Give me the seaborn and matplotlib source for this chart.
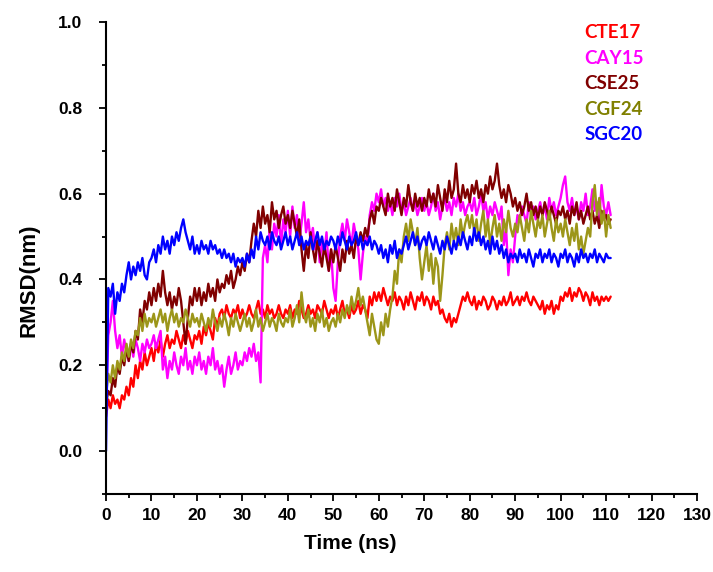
import numpy as np
import pandas as pd
import matplotlib.pyplot as plt
import seaborn as sns

# ── DATA (RMSD in nm, one value every 0.5 ns) ──
step_ns = 0.5

cte17 = [
    0.08, 0.12, 0.10, 0.13, 0.11, 0.12, 0.10, 0.13, 0.12, 0.15, 0.13, 0.17, 0.15, 0.20, 0.17, 0.21, 0.19, 0.23, 0.20, 0.22,
    0.24, 0.21, 0.25, 0.23, 0.26, 0.22, 0.25, 0.27, 0.24, 0.26, 0.25, 0.28, 0.26, 0.24, 0.27, 0.25, 0.28, 0.26, 0.24, 0.27,
    0.26, 0.28, 0.25, 0.29, 0.27, 0.30, 0.28, 0.26, 0.31, 0.29, 0.32, 0.33, 0.31, 0.34, 0.32, 0.31, 0.33, 0.32, 0.34, 0.31,
    0.33, 0.31, 0.32, 0.34, 0.32, 0.31, 0.33, 0.35, 0.32, 0.33, 0.31, 0.34, 0.32, 0.33, 0.31, 0.32, 0.34, 0.32, 0.31, 0.33,
    0.32, 0.34, 0.31, 0.33, 0.32, 0.35, 0.33, 0.31, 0.32, 0.34, 0.32, 0.33, 0.31, 0.34, 0.33, 0.32, 0.35, 0.33, 0.31, 0.33,
    0.32, 0.34, 0.31, 0.33, 0.35, 0.32, 0.33, 0.31, 0.34, 0.32, 0.33, 0.35, 0.32, 0.34, 0.33, 0.31, 0.36, 0.34, 0.37, 0.35,
    0.37, 0.35, 0.38, 0.36, 0.34, 0.36, 0.35, 0.37, 0.34, 0.36, 0.35, 0.33, 0.36, 0.34, 0.37, 0.35, 0.33, 0.36, 0.35, 0.37,
    0.34, 0.36, 0.35, 0.33, 0.36, 0.34, 0.35, 0.32, 0.33, 0.31, 0.30, 0.32, 0.29, 0.31, 0.30, 0.32, 0.34, 0.36, 0.35, 0.37,
    0.35, 0.34, 0.36, 0.33, 0.35, 0.34, 0.36, 0.35, 0.33, 0.34, 0.36, 0.35, 0.33, 0.35, 0.34, 0.36, 0.34, 0.35, 0.37, 0.34,
    0.35, 0.36, 0.34, 0.36, 0.35, 0.37, 0.35, 0.34, 0.36, 0.35, 0.34, 0.33, 0.35, 0.32, 0.34, 0.33, 0.35, 0.32, 0.34, 0.33,
    0.36, 0.35, 0.37, 0.36, 0.38, 0.35, 0.37, 0.36, 0.38, 0.37, 0.35, 0.37, 0.36, 0.34, 0.37, 0.35, 0.36, 0.34, 0.36, 0.35,
    0.36, 0.35, 0.36,
]

cay15 = [
    0.10, 0.27, 0.30, 0.35, 0.28, 0.24, 0.27, 0.22, 0.26, 0.23, 0.21, 0.25, 0.22, 0.26, 0.24, 0.21, 0.25, 0.23, 0.26, 0.24,
    0.25, 0.27, 0.24, 0.26, 0.28, 0.19, 0.22, 0.17, 0.21, 0.19, 0.23, 0.20, 0.18, 0.22, 0.20, 0.24, 0.19, 0.21, 0.18, 0.22,
    0.20, 0.23, 0.19, 0.21, 0.18, 0.22, 0.20, 0.24, 0.19, 0.21, 0.18, 0.20, 0.15, 0.19, 0.22, 0.18, 0.20, 0.23, 0.19, 0.21,
    0.20, 0.23, 0.21, 0.24, 0.22, 0.25, 0.21, 0.23, 0.16, 0.45, 0.48, 0.44, 0.52, 0.47, 0.53, 0.50, 0.55, 0.48, 0.54, 0.51,
    0.56, 0.50, 0.57, 0.52, 0.55, 0.49, 0.53, 0.58, 0.51, 0.54, 0.49, 0.52, 0.47, 0.51, 0.44, 0.49, 0.46, 0.51, 0.42, 0.47,
    0.38, 0.35, 0.44, 0.50, 0.53, 0.49, 0.54, 0.51, 0.48, 0.53, 0.50, 0.47, 0.40, 0.46, 0.50, 0.48, 0.55, 0.58, 0.56, 0.60,
    0.58, 0.61, 0.57, 0.59, 0.56, 0.58, 0.55, 0.59, 0.57, 0.60, 0.56, 0.58, 0.55, 0.57, 0.59, 0.56, 0.58, 0.55, 0.57, 0.59,
    0.56, 0.58, 0.55, 0.57, 0.60, 0.56, 0.58, 0.54, 0.57, 0.59, 0.56, 0.58, 0.55, 0.59, 0.57, 0.60, 0.56, 0.58, 0.55, 0.57,
    0.58, 0.56, 0.59, 0.55, 0.57, 0.60, 0.56, 0.58, 0.54, 0.57, 0.55, 0.58, 0.56, 0.54, 0.57, 0.48, 0.52, 0.41, 0.47, 0.44,
    0.50, 0.55, 0.54, 0.57, 0.55, 0.53, 0.58, 0.55, 0.57, 0.54, 0.56, 0.58, 0.55, 0.57, 0.54, 0.59, 0.56, 0.58, 0.55, 0.57,
    0.59, 0.62, 0.64, 0.58, 0.56, 0.59, 0.55, 0.57, 0.54, 0.58, 0.56, 0.60, 0.55, 0.57, 0.61, 0.56, 0.58, 0.54, 0.62, 0.57,
    0.55, 0.58, 0.55,
]

cse25 = [
    0.11, 0.14, 0.13, 0.17, 0.15, 0.20, 0.18, 0.22, 0.20, 0.24, 0.21, 0.25, 0.23, 0.28, 0.26, 0.33, 0.30, 0.35, 0.33, 0.37,
    0.34, 0.38, 0.35, 0.39, 0.36, 0.42, 0.37, 0.34, 0.37, 0.33, 0.36, 0.34, 0.38, 0.35, 0.30, 0.25, 0.31, 0.36, 0.34, 0.38,
    0.35, 0.38, 0.34, 0.37, 0.35, 0.39, 0.36, 0.38, 0.35, 0.40, 0.37, 0.39, 0.38, 0.41, 0.39, 0.42, 0.38, 0.40, 0.43, 0.41,
    0.44, 0.42, 0.46, 0.44, 0.49, 0.53, 0.50, 0.56, 0.52, 0.57, 0.53, 0.55, 0.51, 0.58, 0.54, 0.56, 0.52, 0.55, 0.57, 0.53,
    0.55, 0.52, 0.56, 0.53, 0.50, 0.54, 0.47, 0.42, 0.48, 0.45, 0.51, 0.47, 0.44, 0.49, 0.46, 0.43, 0.48, 0.45, 0.42, 0.47,
    0.44, 0.48, 0.45, 0.42, 0.47, 0.44, 0.49, 0.46, 0.48, 0.45, 0.50, 0.48, 0.51, 0.49, 0.52, 0.50, 0.54, 0.56, 0.53, 0.57,
    0.56, 0.59, 0.57, 0.55, 0.60, 0.57, 0.59, 0.56, 0.61, 0.58, 0.55, 0.59, 0.57, 0.62, 0.58, 0.56, 0.60, 0.57, 0.59, 0.56,
    0.59, 0.57, 0.61, 0.58, 0.60, 0.57, 0.62, 0.59, 0.56, 0.61, 0.58, 0.63, 0.59, 0.61, 0.67, 0.60, 0.58, 0.62, 0.59, 0.61,
    0.58, 0.62, 0.60, 0.63, 0.59, 0.61, 0.58, 0.62, 0.60, 0.64, 0.61, 0.63, 0.67, 0.62, 0.59, 0.61, 0.58, 0.62, 0.60, 0.57,
    0.59, 0.56, 0.58, 0.55, 0.57, 0.60, 0.56, 0.58, 0.55, 0.57, 0.54, 0.57, 0.55, 0.58, 0.56, 0.54, 0.57, 0.55, 0.53, 0.56,
    0.55, 0.57, 0.54, 0.56, 0.53, 0.57, 0.55, 0.58, 0.54, 0.56, 0.53, 0.55, 0.57, 0.54, 0.56, 0.53, 0.55, 0.52, 0.56, 0.54,
    0.55, 0.53, 0.54,
]

cgf24 = [
    0.13, 0.18, 0.16, 0.20, 0.17, 0.21, 0.19, 0.23, 0.21, 0.25, 0.22, 0.26, 0.24, 0.28, 0.27, 0.31, 0.28, 0.32, 0.29, 0.31,
    0.30, 0.32, 0.29, 0.31, 0.33, 0.30, 0.32, 0.28, 0.31, 0.33, 0.30, 0.32, 0.29, 0.31, 0.30, 0.33, 0.31, 0.29, 0.32, 0.30,
    0.31, 0.29, 0.32, 0.30, 0.28, 0.31, 0.29, 0.33, 0.30, 0.28, 0.31, 0.29, 0.32, 0.30, 0.27, 0.31, 0.29, 0.32, 0.30, 0.28,
    0.30, 0.32, 0.29, 0.31, 0.28, 0.30, 0.33, 0.29, 0.31, 0.28, 0.30, 0.32, 0.29, 0.31, 0.30, 0.28, 0.32, 0.30, 0.29, 0.31,
    0.30, 0.33, 0.29, 0.31, 0.34, 0.30, 0.37, 0.32, 0.30, 0.33, 0.29, 0.31, 0.28, 0.32, 0.30, 0.33, 0.29, 0.31, 0.28, 0.30,
    0.31, 0.29, 0.32, 0.30, 0.33, 0.31, 0.34, 0.32, 0.36, 0.33, 0.35, 0.38, 0.34, 0.36, 0.33, 0.30, 0.27, 0.32, 0.29, 0.26,
    0.25, 0.30, 0.27, 0.32, 0.29, 0.33, 0.36, 0.42, 0.39, 0.47, 0.44, 0.50, 0.53, 0.49, 0.54, 0.51, 0.48, 0.52, 0.45, 0.40,
    0.44, 0.48, 0.42, 0.46, 0.39, 0.45, 0.43, 0.35, 0.41, 0.48, 0.51, 0.47, 0.53, 0.49, 0.52, 0.48, 0.54, 0.50, 0.53, 0.55,
    0.52, 0.55, 0.51, 0.54, 0.49, 0.53, 0.56, 0.50, 0.54, 0.48, 0.52, 0.55, 0.50, 0.53, 0.49, 0.54, 0.51, 0.56, 0.52, 0.50,
    0.53, 0.51, 0.55, 0.52, 0.49, 0.54, 0.51, 0.56, 0.53, 0.50, 0.54, 0.52, 0.55, 0.50, 0.53, 0.56, 0.52, 0.49, 0.54, 0.51,
    0.53, 0.50, 0.54, 0.51, 0.48, 0.52, 0.49, 0.53, 0.47, 0.50, 0.46, 0.49, 0.52, 0.50, 0.58, 0.62, 0.55, 0.59, 0.53, 0.56,
    0.50, 0.55, 0.52,
]

sgc20 = [
    0.00, 0.38, 0.36, 0.39, 0.32, 0.37, 0.35, 0.39, 0.37, 0.41, 0.44, 0.40, 0.43, 0.41, 0.44, 0.42, 0.45, 0.41, 0.40, 0.44,
    0.45, 0.47, 0.44, 0.48, 0.46, 0.50, 0.47, 0.49, 0.46, 0.50, 0.48, 0.51, 0.49, 0.52, 0.54, 0.51, 0.49, 0.47, 0.50, 0.46,
    0.48, 0.46, 0.49, 0.47, 0.48, 0.46, 0.49, 0.47, 0.48, 0.46, 0.47, 0.45, 0.47, 0.45, 0.46, 0.44, 0.46, 0.43, 0.45, 0.44,
    0.45, 0.43, 0.46, 0.44, 0.47, 0.45, 0.50, 0.47, 0.51, 0.49, 0.48, 0.50, 0.47, 0.51, 0.49, 0.48, 0.50, 0.47, 0.49, 0.51,
    0.48, 0.50, 0.47, 0.49, 0.51, 0.48, 0.50, 0.47, 0.49, 0.48, 0.50, 0.47, 0.49, 0.51, 0.48, 0.50, 0.47, 0.49, 0.48, 0.50,
    0.49, 0.47, 0.50, 0.48, 0.51, 0.49, 0.47, 0.50, 0.48, 0.49, 0.51, 0.48, 0.50, 0.47, 0.49, 0.48, 0.50, 0.47, 0.49, 0.48,
    0.46, 0.48, 0.45, 0.47, 0.44, 0.48, 0.46, 0.49, 0.45, 0.47, 0.46, 0.48, 0.50, 0.47, 0.49, 0.51, 0.48, 0.50, 0.47, 0.49,
    0.50, 0.48, 0.51, 0.49, 0.47, 0.50, 0.48, 0.46, 0.49, 0.47, 0.50, 0.48, 0.46, 0.49, 0.47, 0.50, 0.48, 0.51, 0.49, 0.47,
    0.50, 0.48, 0.52, 0.49, 0.51, 0.48, 0.50, 0.47, 0.49, 0.46, 0.50, 0.47, 0.49, 0.46, 0.48, 0.45, 0.47, 0.44, 0.46, 0.45,
    0.46, 0.44, 0.47, 0.45, 0.46, 0.44, 0.47, 0.45, 0.43, 0.46, 0.45, 0.47, 0.44, 0.46, 0.45, 0.47, 0.44, 0.46, 0.45, 0.43,
    0.46, 0.45, 0.47, 0.44, 0.46, 0.45, 0.43, 0.46, 0.44, 0.47, 0.45, 0.46, 0.44, 0.46, 0.45, 0.47, 0.44, 0.46, 0.45, 0.44,
    0.46, 0.45, 0.45,
]

names = ['CTE17', 'CAY15', 'CSE25', 'CGF24', 'SGC20']
colors = ['#ff0000', '#ff00ff', '#800000', '#9c9619', '#0000ff']
label_colors = ['#ff0000', '#ff00ff', '#800000', '#808000', '#0000ff']

# ── LONG FORM TABLE ────────────────────────────────────
frames = []
for name, vals in zip(names, [cte17, cay15, cse25, cgf24, sgc20]):
    frames.append(pd.DataFrame({
        'time': np.arange(len(vals)) * step_ns,
        'rmsd': vals,
        'system': name,
    }))
df = pd.concat(frames, ignore_index=True)

# ── PLOT ───────────────────────────────────────────────
sns.set_theme(style='ticks')
plt.rcParams['font.family'] = ['Liberation Sans', 'DejaVu Sans']

fig = plt.figure(figsize=(7.13, 5.72), dpi=100)
ax = fig.add_axes([0.1487, 0.1364, 0.8289, 0.8251])

sns.lineplot(data=df, x='time', y='rmsd', hue='system', hue_order=names,
             palette=dict(zip(names, colors)), estimator=None, sort=False,
             linewidth=1.7, legend=False, ax=ax)

ax.set_xlim(0, 130)
ax.set_ylim(-0.1, 1.0)
ax.set_xticks(np.arange(0, 131, 10))
ax.set_xticks(np.arange(5, 130, 10), minor=True)
ax.set_yticks(np.arange(0, 1.01, 0.2))
ax.set_yticks([-0.1, 0.1, 0.3, 0.5, 0.7, 0.9], minor=True)
ax.set_yticklabels([f'{v:.1f}' for v in np.arange(0, 1.01, 0.2)])

for side in ['top', 'right']:
    ax.spines[side].set_visible(False)
for side in ['left', 'bottom']:
    ax.spines[side].set_linewidth(1.5)
    ax.spines[side].set_color('black')

ax.tick_params(axis='both', which='major', length=5, width=1.3, color='black',
               labelsize=12.5, labelcolor='black')
ax.tick_params(axis='both', which='minor', length=3, width=1.3, color='black')
ax.tick_params(axis='y', which='major', pad=12)
ax.tick_params(axis='x', which='major', pad=5)
for lab in ax.get_xticklabels() + ax.get_yticklabels():
    lab.set_fontweight('bold')

ax.set_xlabel('Time (ns)', fontsize=15, fontweight='bold', color='black')
ax.set_ylabel('RMSD(nm)', fontsize=16, fontweight='bold', color='black')
ax.xaxis.label.set_va('center')
ax.yaxis.label.set_va('center')
ax.xaxis.set_label_coords(0.413, -0.104)
ax.yaxis.set_label_coords(-0.13, 0.453)

# legend drawn as coloured labels only
for i, (name, c) in enumerate(zip(names, label_colors)):
    ax.text(0.81, 0.977 - i * 0.054, name, transform=ax.transAxes,
            color=c, fontsize=13.5, fontweight='bold', va='center', ha='left',
            family=['Lato', 'DejaVu Sans'])

ax.grid(False)
fig.savefig('out.png', dpi=100)
